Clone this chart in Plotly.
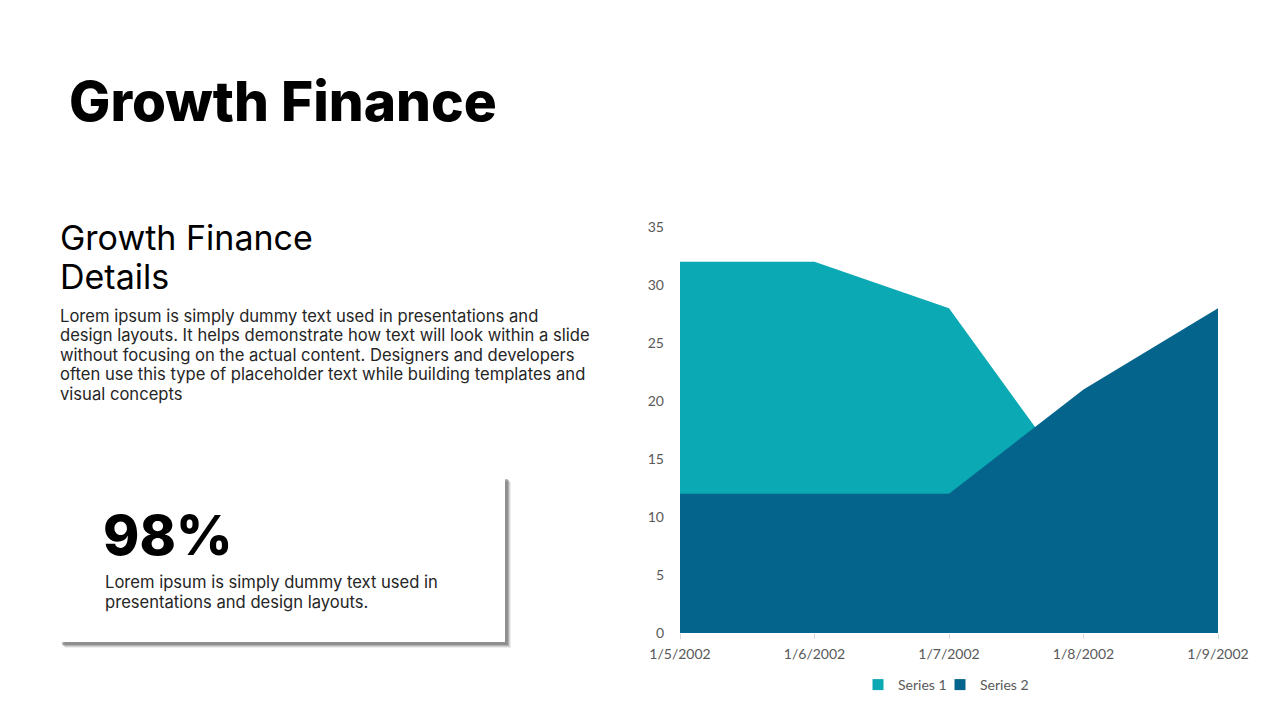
import plotly.graph_objects as go

categories = ["1/5/2002", "1/6/2002", "1/7/2002", "1/8/2002", "1/9/2002"]
series1 = [32, 32, 28, 12, 15]
series2 = [12, 12, 12, 21, 28]
y_ticks = [0, 5, 10, 15, 20, 25, 30, 35]

TEAL = "#0AA9B4"
NAVY = "#05648C"
W, H = 1280, 720

def px(x):
    return x / W

def py(y):
    return 1 - y / H

fig = go.Figure()
fig.add_trace(go.Scatter(x=categories, y=series1, name="Series 1", mode="lines",
                         fill="tozeroy", fillcolor=TEAL, line=dict(width=0, color=TEAL),
                         hoverinfo="skip", showlegend=False))
fig.add_trace(go.Scatter(x=categories, y=series2, name="Series 2", mode="lines",
                         fill="tozeroy", fillcolor=NAVY, line=dict(width=0, color=NAVY),
                         hoverinfo="skip", showlegend=False))
# legend entries with square swatches (one legend each for exact spacing)
for name, col, lg in [("Series 1", TEAL, "legend"), ("Series 2", NAVY, "legend2")]:
    fig.add_trace(go.Scatter(x=[None], y=[None], name=name, mode="markers", legend=lg,
                             marker=dict(symbol="square", size=11, color=col)))

axis_font = dict(family="Lato, Carlito, Calibri, sans-serif", size=14, color="#595959")
leg_common = dict(orientation="h", y=py(685), xanchor="left", yanchor="middle",
                  font=axis_font, itemwidth=30, bgcolor="rgba(0,0,0,0)")

fig.update_layout(
    width=W, height=H,
    margin=dict(l=0, r=0, t=0, b=0, autoexpand=False),
    paper_bgcolor="white", plot_bgcolor="white",
    showlegend=True,
    legend=dict(x=px(858), **leg_common),
    legend2=dict(x=px(940), **leg_common),
    xaxis=dict(domain=[px(680), px(1218)], type="category", range=[0, 4],
               showgrid=False, zeroline=False, showline=False,
               ticks="outside", ticklen=5, tickcolor="#D9D9D9", tickfont=axis_font,
               ticklabelstandoff=3),
    yaxis=dict(domain=[py(633), py(227)], range=[0, 35], tickvals=y_ticks,
               showgrid=False, zeroline=False, showline=False, tickfont=axis_font,
               ticklabelstandoff=15),
)

# card with shadow
shapes = []
for off, op in [(6, 0.10), (5, 0.18), (4, 0.28), (3, 0.38)]:
    shapes.append(dict(type="rect", xref="paper", yref="paper",
                       x0=px(60 + off - 1), x1=px(505 + off), y0=py(642 + off), y1=py(476 + off),
                       fillcolor=f"rgba(90,90,90,{op})", line=dict(width=0), layer="below"))
shapes.append(dict(type="rect", xref="paper", yref="paper",
                   x0=px(60), x1=px(505), y0=py(642), y1=py(476),
                   fillcolor="white", line=dict(width=0), layer="below"))
fig.update_layout(shapes=shapes)

HEAD = "Inter, Noto Sans, sans-serif"
BODY = "Inter, Noto Sans, sans-serif"
ann = []
ann.append(dict(text="Growth Finance", x=px(67), y=py(101), xanchor="left", yanchor="middle",
                font=dict(family=HEAD, size=55, color="#000000", weight=800)))
for i, line in enumerate(["Growth Finance", "Details"]):
    ann.append(dict(text=line, x=px(58), y=py(238 + 38 * i), xanchor="left", yanchor="middle",
                    font=dict(family=HEAD, size=34, color="#000000")))
para = ["Lorem ipsum is simply dummy text used in presentations and",
        "design layouts. It helps demonstrate how text will look within a slide",
        "without focusing on the actual content. Designers and developers",
        "often use this type of placeholder text while building templates and",
        "visual concepts"]
for i, line in enumerate(para):
    ann.append(dict(text=line, x=px(58), y=py(316 + 19.4 * i), xanchor="left", yanchor="middle",
                    font=dict(family=BODY, size=16.6, color="#262626")))
ann.append(dict(text="98%", x=px(101), y=py(535), xanchor="left", yanchor="middle",
                font=dict(family=HEAD, size=55, color="#000000", weight=800)))
card = ["Lorem ipsum is simply dummy text used in", "presentations and design layouts."]
for i, line in enumerate(card):
    ann.append(dict(text=line, x=px(103), y=py(582 + 20 * i), xanchor="left", yanchor="middle",
                    font=dict(family=BODY, size=16.6, color="#262626")))
for a in ann:
    a.update(xref="paper", yref="paper", showarrow=False)
fig.update_layout(annotations=ann)

fig.write_html("out.html")
